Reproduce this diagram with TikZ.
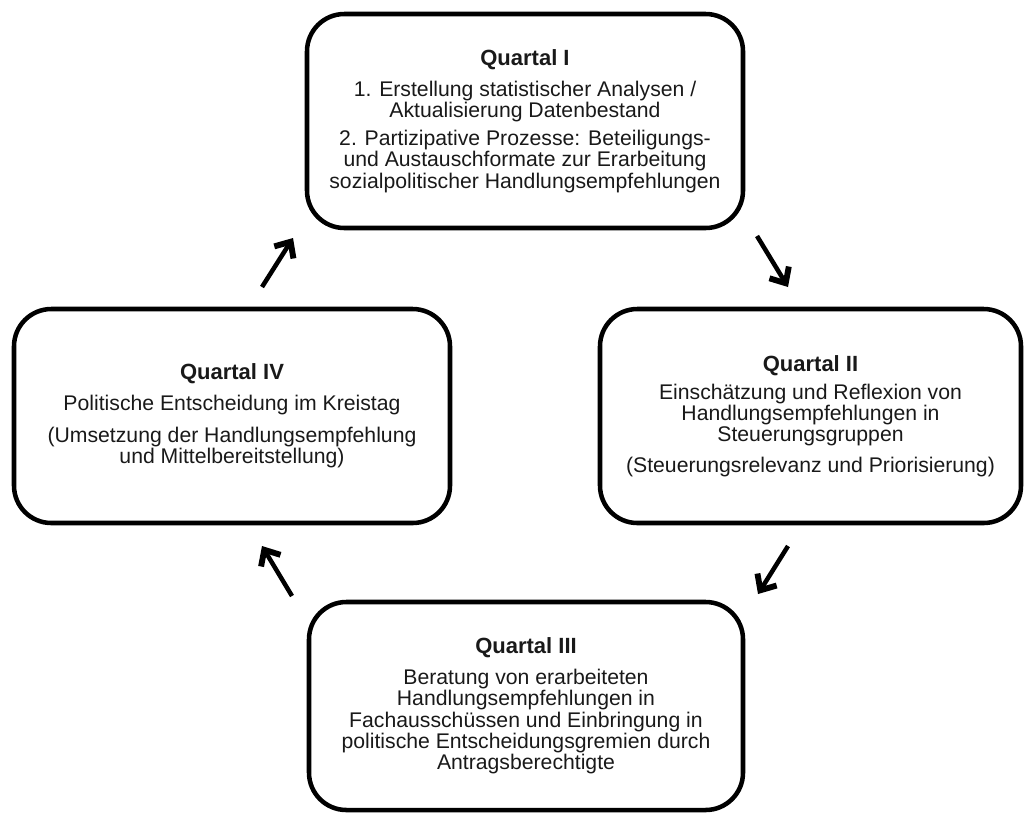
\documentclass[tikz,border=0pt]{standalone}
\usepackage{fontspec}
\setmainfont{Liberation Sans}
\usetikzlibrary{arrows.meta}
\begin{document}
\begin{tikzpicture}[x=0.75pt,y=-0.75pt,
  quartbox/.style={draw=black, line width=3.4pt, rounded corners=28pt,
    align=center, font=\fontsize{15.9pt}{16pt}\selectfont, text=black!90},
  qtitle/.style={},
  cyclearrow/.style={line width=3.4pt,
    -{Straight Barb[length=9.5pt,width=17pt,line width=0pt 1.3]}}]
\useasboundingbox (0,0) rectangle (1027,815);

\node[quartbox, minimum width=327pt, minimum height=160.5pt] (q1) at (525,121)
  {{\fontsize{16.5pt}{16pt}\selectfont\textbf{Quartal I}}\\[7pt]
   1. Erstellung statistischer Analysen /\\
   Aktualisierung Datenbestand\\[5pt]
   2. Partizipative Prozesse: Beteiligungs-\\
   und Austauschformate zur Erarbeitung\\
   sozialpolitischer Handlungsempfehlungen};

\node[quartbox, minimum width=315.75pt, minimum height=160.5pt] (q2) at (810.5,416)
  {{\fontsize{16.5pt}{16pt}\selectfont\textbf{Quartal II}}\\[5pt]
   Einschätzung und Reflexion von\\
   Handlungsempfehlungen in\\
   Steuerungsgruppen\\[7pt]
   (Steuerungsrelevanz und Priorisierung)};

\node[quartbox, minimum width=325.5pt, minimum height=156pt] (q3) at (526,706)
  {{\fontsize{16.5pt}{16pt}\selectfont\textbf{Quartal III}}\\[7pt]
   Beratung von erarbeiteten\\
   Handlungsempfehlungen in\\
   Fachausschüssen und Einbringung in\\
   politische Entscheidungsgremien durch\\
   Antragsberechtigte};

\node[quartbox, minimum width=327pt, minimum height=160.5pt] (q4) at (232,416)
  {{\fontsize{16.5pt}{16pt}\selectfont\textbf{Quartal IV}}\\[7pt]
   Politische Entscheidung im Kreistag\\[8pt]
   (Umsetzung der Handlungsempfehlung\\
   und Mittelbereitstellung)};

\coordinate (a1s) at (262,287);
\coordinate (a1e) at (293,238);
\coordinate (a2s) at (757,236);
\coordinate (a2e) at (788,287);
\coordinate (a3s) at (788,546);
\coordinate (a3e) at (758,594);
\coordinate (a4s) at (292,596);
\coordinate (a4e) at (262,546);

\draw[cyclearrow] (a1s) -- (a1e);
\draw[cyclearrow] (a2s) -- (a2e);
\draw[cyclearrow] (a3s) -- (a3e);
\draw[cyclearrow] (a4s) -- (a4e);
\end{tikzpicture}
\end{document}
